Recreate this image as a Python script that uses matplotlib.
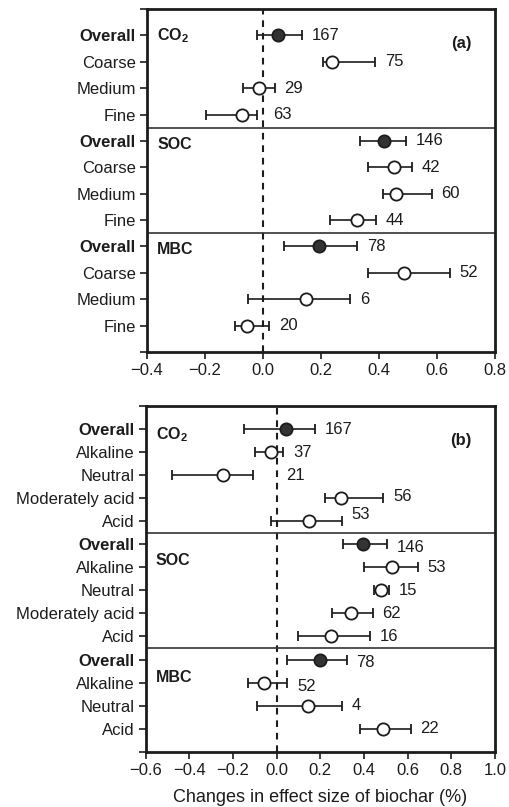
import matplotlib
matplotlib.use("Agg")
import matplotlib.pyplot as plt
import numpy as np

plt.rcParams["font.family"] = ["Liberation Sans", "DejaVu Sans"]
plt.rcParams["mathtext.fontset"] = "custom"
plt.rcParams["mathtext.rm"] = "Liberation Sans"
plt.rcParams["mathtext.bf"] = "Liberation Sans:bold"
plt.rcParams["axes.unicode_minus"] = True

INK = "#1c1c1c"

# ---- (a) soil texture ----
texture_groups = ["CO$_\\mathbf{2}$", "SOC", "MBC"]
texture_cats = ["Overall", "Coarse", "Medium", "Fine"]

tex_co2_mean = [0.051, 0.239, -0.014, -0.073]
tex_co2_lo = [-0.021, 0.208, -0.069, -0.198]
tex_co2_hi = [0.136, 0.386, 0.041, -0.021]
tex_co2_n = [167, 75, 29, 63]

tex_soc_mean = [0.418, 0.451, 0.458, 0.324]
tex_soc_lo = [0.334, 0.362, 0.413, 0.232]
tex_soc_hi = [0.493, 0.515, 0.582, 0.389]
tex_soc_n = [146, 42, 60, 44]

tex_mbc_mean = [0.194, 0.487, 0.148, -0.055]
tex_mbc_lo = [0.072, 0.362, -0.053, -0.097]
tex_mbc_hi = [0.324, 0.644, 0.301, 0.021]
tex_mbc_n = [78, 52, 6, 20]

# ---- (b) soil pH ----
ph_groups = ["CO$_\\mathbf{2}$", "SOC", "MBC"]
ph_co2_cats = ["Overall", "Alkaline", "Neutral", "Moderately acid", "Acid"]
ph_soc_cats = ["Overall", "Alkaline", "Neutral", "Moderately acid", "Acid"]
ph_mbc_cats = ["Overall", "Alkaline", "Neutral", "Acid"]

ph_co2_mean = [0.043, -0.026, -0.245, 0.296, 0.148]
ph_co2_lo = [-0.148, -0.099, -0.480, 0.223, -0.028]
ph_co2_hi = [0.175, 0.031, -0.107, 0.488, 0.299]
ph_co2_n = [167, 37, 21, 56, 53]

ph_soc_mean = [0.397, 0.530, 0.478, 0.339, 0.247]
ph_soc_lo = [0.302, 0.398, 0.446, 0.255, 0.099]
ph_soc_hi = [0.507, 0.647, 0.516, 0.440, 0.427]
ph_soc_n = [146, 53, 15, 62, 16]

ph_mbc_mean = [0.198, -0.057, 0.145, 0.488]
ph_mbc_lo = [0.049, -0.133, -0.089, 0.382]
ph_mbc_hi = [0.321, 0.049, 0.301, 0.614]
ph_mbc_n = [78, 52, 4, 22]

x_label = "Changes in effect size of biochar (%)"


def draw_panel(ax, groups, cats, means, los, his, ns, xticks, tag,
               group_label_shift, raise_pts=None):
    raise_pts = raise_pts or {}
    pos = 1
    tick_labels = [""]
    bounds = []
    for g, (gname, gc, gm, gl, gh, gn) in enumerate(
            zip(groups, cats, means, los, his, ns)):
        start = pos
        for i, (c, m, lo, hi, n) in enumerate(zip(gc, gm, gl, gh, gn)):
            overall = (c == "Overall")
            ax.errorbar(m, pos, xerr=[[m - lo], [hi - m]], fmt="o",
                        ms=8.8, mew=1.3, mec=INK,
                        mfc="#333333" if overall else "white",
                        ecolor=INK, elinewidth=1.2, capsize=3.8,
                        capthick=1.2, zorder=3)
            dy = raise_pts.get((g, i), 0)
            ax.annotate(str(n), xy=(max(hi, 0.0), pos), xytext=(7, dy),
                        textcoords="offset points", ha="left", va="center",
                        fontsize=12, color=INK)
            tick_labels.append(c)
            pos += 1
        bounds.append(pos - 0.5)
        ax.text(0.029, start + group_label_shift[g], gname,
                transform=ax.get_yaxis_transform(), ha="left",
                va="center", fontsize=11.5, fontweight="bold", color=INK)
    tick_labels.append("")
    n_rows = pos - 1
    for b in bounds[:-1]:
        ax.axhline(b, color="#333333", lw=1.2, zorder=2)
    ax.axvline(0, color=INK, lw=1.5, ls=(0, (3.2, 2.8)), zorder=1)

    ax.set_ylim(n_rows + 1, 0)
    ax.set_yticks(np.arange(0, n_rows + 2))
    ax.set_yticklabels(tick_labels, fontsize=12, color=INK)
    for t in ax.get_yticklabels():
        if t.get_text() == "Overall":
            t.set_fontweight("bold")

    ax.set_xlim(xticks[0], xticks[-1])
    ax.set_xticks(xticks)
    ax.set_xticklabels([f"{v:.1f}".replace("-", "\u2212") for v in xticks],
                       fontsize=12, color=INK)
    ax.tick_params(axis="both", direction="out", length=5, width=1.2,
                   color=INK, pad=3)
    for s in ax.spines.values():
        s.set_linewidth(2.0)
        s.set_color(INK)
    ax.text(0.902, 0.90, tag, transform=ax.transAxes, ha="center",
            va="center", fontsize=12, fontweight="bold", color=INK)


fig = plt.figure(figsize=(5.09, 8.07), dpi=100)
ax_a = fig.add_axes([0.2888, 0.5638, 0.9725 - 0.2888, 0.9888 - 0.5638])
ax_b = fig.add_axes([0.2862, 0.0685, 0.9725 - 0.2862, 0.4969 - 0.0685])

draw_panel(ax_a, texture_groups,
           [texture_cats, texture_cats, texture_cats],
           [tex_co2_mean, tex_soc_mean, tex_mbc_mean],
           [tex_co2_lo, tex_soc_lo, tex_mbc_lo],
           [tex_co2_hi, tex_soc_hi, tex_mbc_hi],
           [tex_co2_n, tex_soc_n, tex_mbc_n],
           np.round(np.arange(-0.4, 0.81, 0.2), 1), "(a)",
           group_label_shift=[0.0, 0.15, 0.12])

draw_panel(ax_b, ph_groups,
           [ph_co2_cats, ph_soc_cats, ph_mbc_cats],
           [ph_co2_mean, ph_soc_mean, ph_mbc_mean],
           [ph_co2_lo, ph_soc_lo, ph_mbc_lo],
           [ph_co2_hi, ph_soc_hi, ph_mbc_hi],
           [ph_co2_n, ph_soc_n, ph_mbc_n],
           np.round(np.arange(-0.6, 1.01, 0.2), 1), "(b)",
           group_label_shift=[0.25, 0.7, 0.8],
           raise_pts={(0, 2): 0, (0, 3): 1.5, (0, 4): 5, (1, 0): -2,
                      (2, 0): -2, (2, 1): -3})

ax_b.set_xlabel(x_label, fontsize=13, color=INK, labelpad=8)

fig.savefig("out.png", dpi=100)
